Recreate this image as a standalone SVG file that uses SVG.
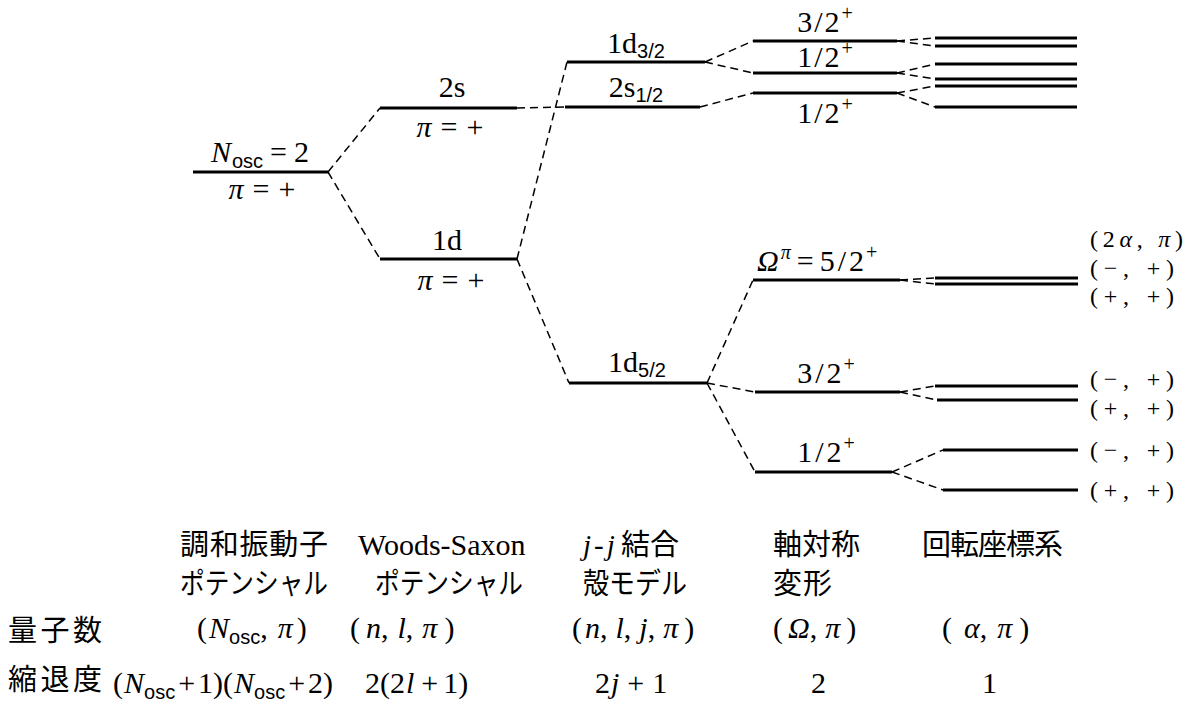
<svg xmlns="http://www.w3.org/2000/svg" width="1190" height="704" viewBox="0 0 1190 704">
<style>
.lv{stroke:#000;stroke-width:3;fill:none;stroke-linecap:butt}
.cn{stroke:#000;stroke-width:1.5;fill:none;stroke-dasharray:8 5}
.t{font-family:"Liberation Serif",serif;font-size:30px;fill:#000}
.r{font-family:"Liberation Serif",serif;font-size:24px;fill:#000}
.jp{font-family:"Liberation Serif","Noto Sans CJK JP",sans-serif;font-size:29px;fill:#000}
.it{font-style:italic}
.sub{font-family:"Liberation Sans",sans-serif;font-size:20px;font-style:normal}
.sup{font-size:20px}
</style>
<rect width="1190" height="704" fill="#fff"/>
<g id="connectors">
<line class="cn" x1="328" y1="172" x2="380" y2="108"/>
<line class="cn" x1="328" y1="172" x2="380" y2="259"/>
<line class="cn" x1="517" y1="108" x2="565" y2="107"/>
<line class="cn" x1="517" y1="259" x2="567" y2="62"/>
<line class="cn" x1="517" y1="259" x2="569" y2="383"/>
<line class="cn" x1="705" y1="62" x2="753" y2="41"/>
<line class="cn" x1="705" y1="62" x2="753" y2="73"/>
<line class="cn" x1="700" y1="107" x2="753" y2="93"/>
<line class="cn" x1="897" y1="41" x2="935" y2="38"/>
<line class="cn" x1="897" y1="41" x2="935" y2="46"/>
<line class="cn" x1="897" y1="73" x2="935" y2="64"/>
<line class="cn" x1="897" y1="73" x2="935" y2="79"/>
<line class="cn" x1="897" y1="93" x2="935" y2="86"/>
<line class="cn" x1="897" y1="93" x2="935" y2="107"/>
<line class="cn" x1="707" y1="383" x2="753" y2="280"/>
<line class="cn" x1="707" y1="383" x2="755" y2="392"/>
<line class="cn" x1="707" y1="383" x2="755" y2="472"/>
<line class="cn" x1="900" y1="280" x2="935" y2="278"/>
<line class="cn" x1="900" y1="280" x2="935" y2="284"/>
<line class="cn" x1="900" y1="392" x2="935" y2="386"/>
<line class="cn" x1="900" y1="392" x2="937" y2="400"/>
<line class="cn" x1="892" y1="472" x2="943" y2="450"/>
<line class="cn" x1="892" y1="472" x2="943" y2="490"/>
</g>
<g id="n-osc">
<line class="lv" x1="193" y1="172" x2="328" y2="172"/>
<text class="t" x="260" y="162" text-anchor="middle"><tspan class="it">N</tspan><tspan class="sub" dx="1" dy="6">osc</tspan><tspan dx="7" dy="-6">=</tspan><tspan dx="7">2</tspan></text>
<text class="t" x="262" y="199" text-anchor="middle"><tspan class="it">π</tspan><tspan dx="9">=</tspan><tspan dx="9">+</tspan></text>
</g>
<g id="ws-2s">
<line class="lv" x1="380" y1="108" x2="517" y2="108"/>
<text class="t" x="452" y="97" text-anchor="middle">2s</text>
<text class="t" x="450" y="137" text-anchor="middle"><tspan class="it">π</tspan><tspan dx="9">=</tspan><tspan dx="9">+</tspan></text>
</g>
<g id="ws-1d">
<line class="lv" x1="380" y1="259" x2="517" y2="259"/>
<text class="t" x="447" y="250" text-anchor="middle">1d</text>
<text class="t" x="451" y="290" text-anchor="middle"><tspan class="it">π</tspan><tspan dx="9">=</tspan><tspan dx="9">+</tspan></text>
</g>
<g id="jj-1d32">
<line class="lv" x1="567" y1="62" x2="705" y2="62"/>
<text class="t" x="636" y="53" text-anchor="middle">1d<tspan class="sub" dy="5">3/2</tspan></text>
</g>
<g id="jj-2s12">
<line class="lv" x1="565" y1="107" x2="700" y2="107"/>
<text class="t" x="636" y="97" text-anchor="middle">2s<tspan class="sub" dy="5">1/2</tspan></text>
</g>
<g id="jj-1d52">
<line class="lv" x1="569" y1="383" x2="707" y2="383"/>
<text class="t" x="637" y="372" text-anchor="middle">1d<tspan class="sub" dy="5">5/2</tspan></text>
</g>
<g id="def-top-32">
<line class="lv" x1="753" y1="41" x2="897" y2="41"/>
<text class="t" x="825" y="32" text-anchor="middle">3<tspan dx="2">/</tspan><tspan dx="2">2</tspan><tspan class="sup" dx="2" dy="-12">+</tspan></text>
</g>
<g id="def-top-12a">
<line class="lv" x1="753" y1="73" x2="897" y2="73"/>
<text class="t" x="825" y="67" text-anchor="middle">1<tspan dx="2">/</tspan><tspan dx="2">2</tspan><tspan class="sup" dx="2" dy="-12">+</tspan></text>
</g>
<g id="def-top-12b">
<line class="lv" x1="753" y1="93" x2="897" y2="93"/>
<text class="t" x="825" y="123" text-anchor="middle">1<tspan dx="2">/</tspan><tspan dx="2">2</tspan><tspan class="sup" dx="2" dy="-12">+</tspan></text>
</g>
<g id="rot-top">
<line class="lv" x1="935" y1="38" x2="1077" y2="38"/>
<line class="lv" x1="935" y1="46" x2="1077" y2="46"/>
<line class="lv" x1="935" y1="64" x2="1077" y2="64"/>
<line class="lv" x1="935" y1="79" x2="1077" y2="79"/>
<line class="lv" x1="935" y1="86" x2="1077" y2="86"/>
<line class="lv" x1="935" y1="107" x2="1077" y2="107"/>
</g>
<g id="def-52">
<line class="lv" x1="753" y1="280" x2="900" y2="280"/>
<text class="t" x="757" y="271"><tspan class="it">Ω</tspan><tspan class="sup it" dx="2" dy="-12">π</tspan><tspan dx="6" dy="12">=</tspan><tspan dx="6">5</tspan><tspan dx="3">/</tspan><tspan dx="3">2</tspan><tspan class="sup" dx="2" dy="-12">+</tspan></text>
</g>
<g id="def-32">
<line class="lv" x1="755" y1="392" x2="900" y2="392"/>
<text class="t" x="826" y="383" text-anchor="middle">3<tspan dx="3">/</tspan><tspan dx="3">2</tspan><tspan class="sup" dx="2" dy="-12">+</tspan></text>
</g>
<g id="def-12">
<line class="lv" x1="755" y1="472" x2="892" y2="472"/>
<text class="t" x="826" y="462" text-anchor="middle">1<tspan dx="3">/</tspan><tspan dx="3">2</tspan><tspan class="sup" dx="2" dy="-12">+</tspan></text>
</g>
<g id="rot-52">
<line class="lv" x1="935" y1="278" x2="1078" y2="278"/>
<line class="lv" x1="935" y1="284" x2="1078" y2="284"/>
<text class="r" x="1090" y="247" textLength="93">(2<tspan class="it">α</tspan>, <tspan class="it">π</tspan>)</text>
<text class="r" x="1090" y="276" textLength="84">(−, +)</text>
<text class="r" x="1090" y="304" textLength="84">(+, +)</text>
</g>
<g id="rot-32">
<line class="lv" x1="935" y1="386" x2="1078" y2="386"/>
<line class="lv" x1="937" y1="400" x2="1078" y2="400"/>
<text class="r" x="1090" y="387" textLength="84">(−, +)</text>
<text class="r" x="1090" y="416" textLength="84">(+, +)</text>
</g>
<g id="rot-12">
<line class="lv" x1="943" y1="450" x2="1078" y2="450"/>
<line class="lv" x1="943" y1="490" x2="1078" y2="490"/>
<text class="r" x="1090" y="458" textLength="84">(−, +)</text>
<text class="r" x="1090" y="498" textLength="84">(+, +)</text>
</g>
<g id="table">
<text class="jp" x="180" y="555" textLength="148">調和振動子</text>
<text class="t" x="358" y="555" font-size="31">Woods-Saxon</text>
<text class="jp" x="583" y="555"><tspan class="it">j</tspan><tspan dx="3">-</tspan><tspan class="it" dx="3">j</tspan><tspan x="621">結合</tspan></text>
<text class="jp" x="773" y="555" textLength="87">軸対称</text>
<text class="jp" x="922" y="555" textLength="141">回転座標系</text>
<text class="jp" x="180" y="594" textLength="148" lengthAdjust="spacingAndGlyphs">ポテンシャル</text>
<text class="jp" x="375" y="594" textLength="148" lengthAdjust="spacingAndGlyphs">ポテンシャル</text>
<text class="jp" x="583" y="594" textLength="104" lengthAdjust="spacingAndGlyphs">殻モデル</text>
<text class="jp" x="773" y="594" textLength="59">変形</text>
<text class="jp" x="8" y="641" textLength="94">量子数</text>
<text class="t" x="197" y="638">(<tspan class="it" dx="2">N</tspan><tspan class="sub" dy="6">osc</tspan><tspan dy="-6">,</tspan><tspan class="it" dx="10">π</tspan><tspan dx="4">)</tspan></text>
<text class="t" x="350" y="638">(<tspan class="it" dx="6">n</tspan>,<tspan class="it" dx="9">l</tspan>,<tspan class="it" dx="9">π</tspan><tspan dx="7">)</tspan></text>
<text class="t" x="572" y="638">(<tspan class="it" dx="3">n</tspan>,<tspan class="it" dx="8">l</tspan>,<tspan class="it" dx="8">j</tspan>,<tspan class="it" dx="8">π</tspan><tspan dx="6">)</tspan></text>
<text class="t" x="773" y="638">(<tspan class="it" dx="5">Ω</tspan>,<tspan class="it" dx="8">π</tspan><tspan dx="6">)</tspan></text>
<text class="t" x="942" y="638">(<tspan class="it" dx="12">α</tspan>,<tspan class="it" dx="10">π</tspan><tspan dx="7">)</tspan></text>
<text class="jp" x="8" y="690" textLength="94">縮退度</text>
<text class="t" x="113" y="693">(<tspan class="it" dx="1">N</tspan><tspan class="sub" dy="6">osc</tspan><tspan dx="3" dy="-6">+</tspan><tspan dx="3">1)(</tspan><tspan class="it" dx="1">N</tspan><tspan class="sub" dy="6">osc</tspan><tspan dx="3" dy="-6">+</tspan><tspan dx="3">2)</tspan></text>
<text class="t" x="365" y="693">2(2<tspan class="it" dx="1">l</tspan><tspan dx="7">+</tspan><tspan dx="5">1)</tspan></text>
<text class="t" x="595" y="693">2<tspan class="it" dx="1">j</tspan><tspan dx="8">+</tspan><tspan dx="8">1</tspan></text>
<text class="t" x="811" y="693">2</text>
<text class="t" x="982" y="693">1</text>
</g>
</svg>
